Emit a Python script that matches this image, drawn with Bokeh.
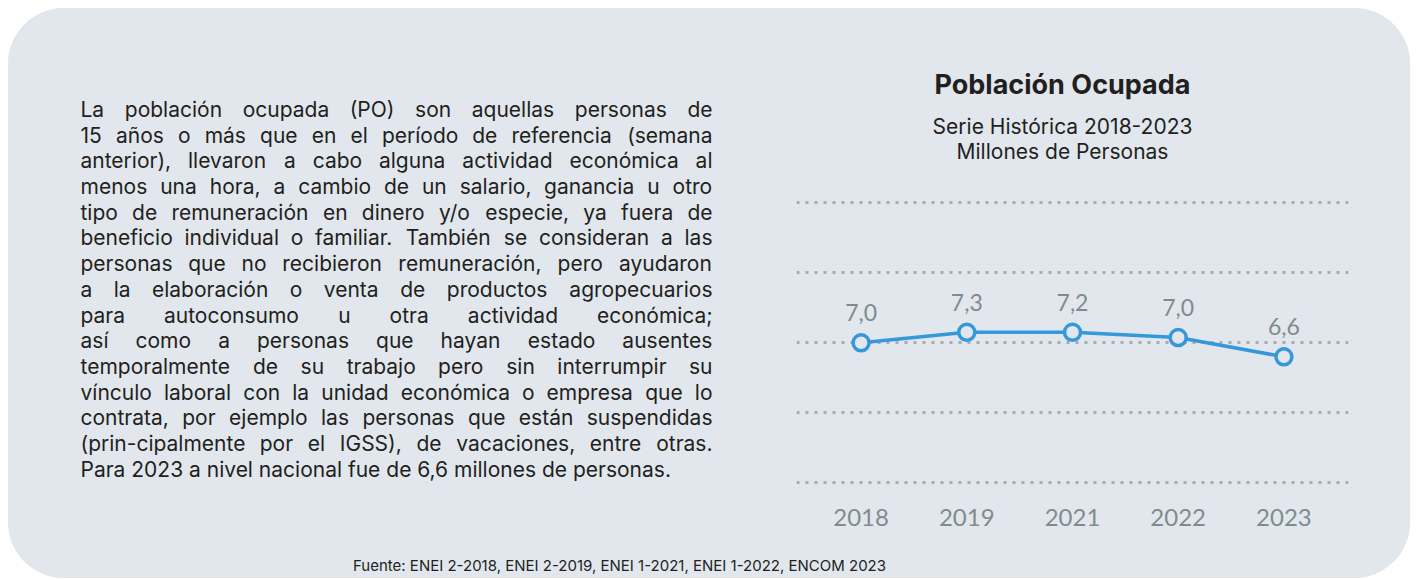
import glob
import os
import re
import struct

from bokeh.plotting import figure
from bokeh.layouts import row, column
from bokeh.models import Range1d, FixedTicker, Label, ColumnDataSource, Grid
from bokeh.core.properties import value
from bokeh.embed import file_html
from bokeh.resources import INLINE

# ---------------- data ----------------
years = ["2018", "2019", "2021", "2022", "2023"]
ocupados = [7.0, 7.3, 7.3, 7.15, 6.6]          # millones de personas (posición leída)
etiquetas = ["7,0", "7,3", "7,2", "7,0", "6,6"]  # etiquetas tal como aparecen
grid_values = [3, 5, 7, 9, 11]

title_text = "Población Ocupada"
subtitle_lines = ["Serie Histórica 2018-2023", "Millones de Personas"]
footer_text = "Fuente: ENEI 2-2018, ENEI 2-2019, ENEI 1-2021, ENEI 1-2022, ENCOM 2023"
para_lines = [
    "La población ocupada (PO) son aquellas personas de",
    "15 años o más que en el período de referencia (semana",
    "anterior), llevaron a cabo alguna actividad económica al",
    "menos una hora, a cambio de un salario, ganancia u otro",
    "tipo de remuneración en dinero y/o especie, ya fuera de",
    "beneficio individual o familiar. También se consideran a las",
    "personas que no recibieron remuneración, pero ayudaron",
    "a la elaboración o venta de productos agropecuarios",
    "para autoconsumo u otra actividad económica;",
    "así como a personas que hayan estado ausentes",
    "temporalmente de su trabajo pero sin interrumpir su",
    "vínculo laboral con la unidad económica o empresa que lo",
    "contrata, por ejemplo las personas que están suspendidas",
    "(prin-cipalmente por el IGSS), de vacaciones, entre otras.",
    "Para 2023 a nivel nacional fue de 6,6 millones de personas.",
]

CARD = "#e1e7ed"
BLUE = "#3498db"
GRAY = "#7f8c8d"
DARK = "#231f20"
GRID = "#a6acaf"

SHIFT = 0.36  # empirical em-fraction correction for alphabetic baseline placement


# ------------- font metrics (for justified paragraph) -------------
def _find_font(patterns):
    dirs = ["/usr/share/fonts", "/usr/local/share/fonts",
            os.path.expanduser("~/.fonts"), os.path.expanduser("~/.local/share/fonts")]
    files = []
    for d in dirs:
        files += glob.glob(os.path.join(d, "**", "*"), recursive=True)
    files = sorted(files)
    for pat in patterns:
        rx = re.compile(pat, re.I)
        for f in files:
            if rx.match(os.path.basename(f)):
                return f
    return None


def _metrics(path):
    data = open(path, "rb").read()
    base = 0
    if data[:4] == b"ttcf":
        base = struct.unpack(">I", data[12:16])[0]

    def u16(o):
        return struct.unpack(">H", data[o:o + 2])[0]

    def s16(o):
        return struct.unpack(">h", data[o:o + 2])[0]

    def u32(o):
        return struct.unpack(">I", data[o:o + 4])[0]

    n = u16(base + 4)
    tab = {}
    for i in range(n):
        tag, _, off, _ln = struct.unpack(">4sIII", data[base + 12 + 16 * i: base + 28 + 16 * i])
        tab[tag] = off
    upem = u16(tab[b"head"] + 18)
    nhm = u16(tab[b"hhea"] + 34)
    hm = tab[b"hmtx"]
    adv = [u16(hm + 4 * i) for i in range(nhm)]
    cm = tab[b"cmap"]
    f4 = f12 = None
    for i in range(u16(cm + 2)):
        pid, eid, off = struct.unpack(">HHI", data[cm + 4 + 8 * i: cm + 12 + 8 * i])
        o = cm + off
        fmt = u16(o)
        if (pid == 3 and eid in (1, 10)) or pid == 0:
            if fmt == 4 and f4 is None:
                f4 = o
            if fmt == 12 and f12 is None:
                f12 = o

    def glyph(c):
        if f12 is not None:
            ng = u32(f12 + 12)
            for j in range(ng):
                s, e, g = struct.unpack(">III", data[f12 + 16 + 12 * j: f12 + 28 + 12 * j])
                if s <= c <= e:
                    return g + c - s
            return 0
        if f4 is not None:
            segx2 = u16(f4 + 6)
            ends = f4 + 14
            starts = ends + segx2 + 2
            deltas = starts + segx2
            ros = deltas + segx2
            for j in range(segx2 // 2):
                e = u16(ends + 2 * j)
                if c <= e:
                    s = u16(starts + 2 * j)
                    if c < s:
                        return 0
                    d = s16(deltas + 2 * j)
                    ro = u16(ros + 2 * j)
                    if ro == 0:
                        return (c + d) & 0xFFFF
                    g = u16(ros + 2 * j + ro + 2 * (c - s))
                    return (g + d) & 0xFFFF if g else 0
            return 0
        return 0

    def width(text, size):
        tot = 0
        for ch in text:
            g = glyph(ord(ch))
            tot += adv[g] if g < nhm else adv[-1]
        return tot * size / upem

    return width


FONT_CANDIDATES = [
    ("Inter", [r"^Inter-Regular\.(ttf|otf)$", r"^InterVariable\.ttf$", r"^Inter\[.*\]\.ttf$", r"^Inter\.(ttf|otf|ttc)$"]),
    ("Open Sans", [r"^OpenSans-Regular\.ttf$", r"^OpenSans\[.*\]\.ttf$"]),
    ("Noto Sans", [r"^NotoSans-Regular\.ttf$"]),
    ("Roboto", [r"^Roboto-Regular\.ttf$"]),
    ("DejaVu Sans", [r"^DejaVuSans\.ttf$"]),
]

PARA_FONT = "Inter"
measure = None
for fam, pats in FONT_CANDIDATES:
    try:
        path = _find_font(pats)
        if path:
            measure = _metrics(path)
            PARA_FONT = fam
            break
    except Exception:
        measure = None


def _panel(width, height, x0, x1, y_bottom, y_top, **kw):
    f = figure(width=width, height=height, output_backend="svg", toolbar_location=None,
               x_range=Range1d(x0, x1), y_range=Range1d(y_bottom, y_top),
               x_axis_location=None, y_axis_location=None, **kw)
    f.background_fill_color = CARD
    f.border_fill_color = CARD
    f.outline_line_color = None
    f.xgrid.visible = False
    f.ygrid.visible = False
    return f


# Layout (page pixels): card 8..1410 x 8..578; chart frame x 796..1348, y 8..500
TOP_H = 540
BOTTOM_BORDER = 48

# ---------------- left text panel ----------------
pt = _panel(788, TOP_H, 8, 796, 500, 8,
            min_border_left=0, min_border_right=0, min_border_top=0, min_border_bottom=BOTTOM_BORDER)

PARA_LEFT, PARA_RIGHT = 80, 712
BASE0, LEAD = 116.5, 25.7
PARA_SIZE = 21
wx, wy, wt = [], [], []
for i, line in enumerate(para_lines):
    yb = BASE0 + LEAD * i - SHIFT * PARA_SIZE
    words = line.split(" ")
    last = i == len(para_lines) - 1
    if measure is None or last or len(words) < 2:
        wx.append(PARA_LEFT); wy.append(yb); wt.append(line)
        continue
    ws = [measure(w, PARA_SIZE) for w in words]
    gap = (PARA_RIGHT - PARA_LEFT - sum(ws)) / (len(words) - 1)
    xcur = PARA_LEFT
    for w, wd in zip(words, ws):
        wx.append(xcur); wy.append(yb); wt.append(w)
        xcur += wd + gap

psrc = ColumnDataSource(dict(x=wx, y=wy, t=wt))
pt.text("x", "y", text="t", source=psrc, text_font=value(PARA_FONT),
        text_font_size=value("%gpx" % PARA_SIZE), text_color=DARK,
        text_align="left", text_baseline="alphabetic")

# ---------------- chart panel ----------------
p = figure(width=614, height=TOP_H, output_backend="svg", toolbar_location=None,
           x_range=Range1d(-0.611, 4.611), y_range=Range1d(2.494, 16.551),
           y_axis_location=None,
           min_border_left=0, min_border_right=62, min_border_top=0, min_border_bottom=BOTTOM_BORDER)
p.background_fill_color = CARD
p.border_fill_color = CARD
p.outline_line_color = None
p.xgrid.visible = False
p.ygrid.visible = False
p.add_layout(Grid(dimension=1, ticker=FixedTicker(ticks=grid_values),
                  grid_line_color=GRID, grid_line_width=3.2, grid_line_dash="3 6"))

# page-pixel helper ranges for the title block
p.extra_x_ranges = {"px": Range1d(796, 1348)}
p.extra_y_ranges = {"py": Range1d(500, 8)}

xs = list(range(len(years)))
ax = p.xaxis[0]
ax.ticker = FixedTicker(ticks=xs)
ax.major_label_overrides = {i: y for i, y in zip(xs, years)}
ax.axis_line_color = None
ax.major_tick_line_color = None
ax.minor_tick_line_color = None
ax.major_tick_out = 0
ax.major_tick_in = 0
ax.major_label_standoff = 8
ax.major_label_text_font = "Lato"
ax.major_label_text_font_size = "24px"
ax.major_label_text_color = GRAY

src = ColumnDataSource(dict(x=xs, y=ocupados, label=etiquetas))
p.line("x", "y", source=src, line_color=BLUE, line_width=3.5)
p.scatter("x", "y", source=src, size=16, fill_color=CARD, line_color=BLUE, line_width=3.5)
p.text("x", "y", text="label", source=src, text_font=value("Lato"), text_font_size=value("23px"),
       text_color=GRAY, text_align="center", text_baseline="alphabetic", y_offset=-30)

TITLE_SIZE, SUB_SIZE = 27, 21
p.add_layout(Label(x=1062, y=94 - SHIFT * TITLE_SIZE, x_range_name="px", y_range_name="py",
                   text=title_text, text_font="Inter", text_font_style="bold",
                   text_font_size="%dpx" % TITLE_SIZE,
                   text_color=DARK, text_align="center", text_baseline="alphabetic"))
for k, line in enumerate(subtitle_lines):
    p.add_layout(Label(x=1062, y=133.3 + 25.7 * k - SHIFT * SUB_SIZE, x_range_name="px",
                       y_range_name="py", text=line, text_font="Inter",
                       text_font_size="%dpx" % SUB_SIZE,
                       text_color=DARK, text_align="center", text_baseline="alphabetic"))

# ---------------- footer strip ----------------
FOOT_SIZE = 15
pf = _panel(1402, 30, 8, 1410, 578, 548, min_border=0)
fsrc = ColumnDataSource(dict(x=[619], y=[570 - SHIFT * FOOT_SIZE], t=[footer_text]))
pf.text("x", "y", text="t", source=fsrc, text_font=value("Inter"),
        text_font_size=value("%dpx" % FOOT_SIZE),
        text_color=DARK, text_align="center", text_baseline="alphabetic")

layout = column(row(pt, p, spacing=0), pf, spacing=0)
layout.styles = {"border-radius": "56px", "overflow": "hidden", "background-color": CARD,
                 "margin-left": "8px", "margin-top": "8px"}

open("out.html", "w").write(file_html(layout, INLINE, title="Población Ocupada"))
